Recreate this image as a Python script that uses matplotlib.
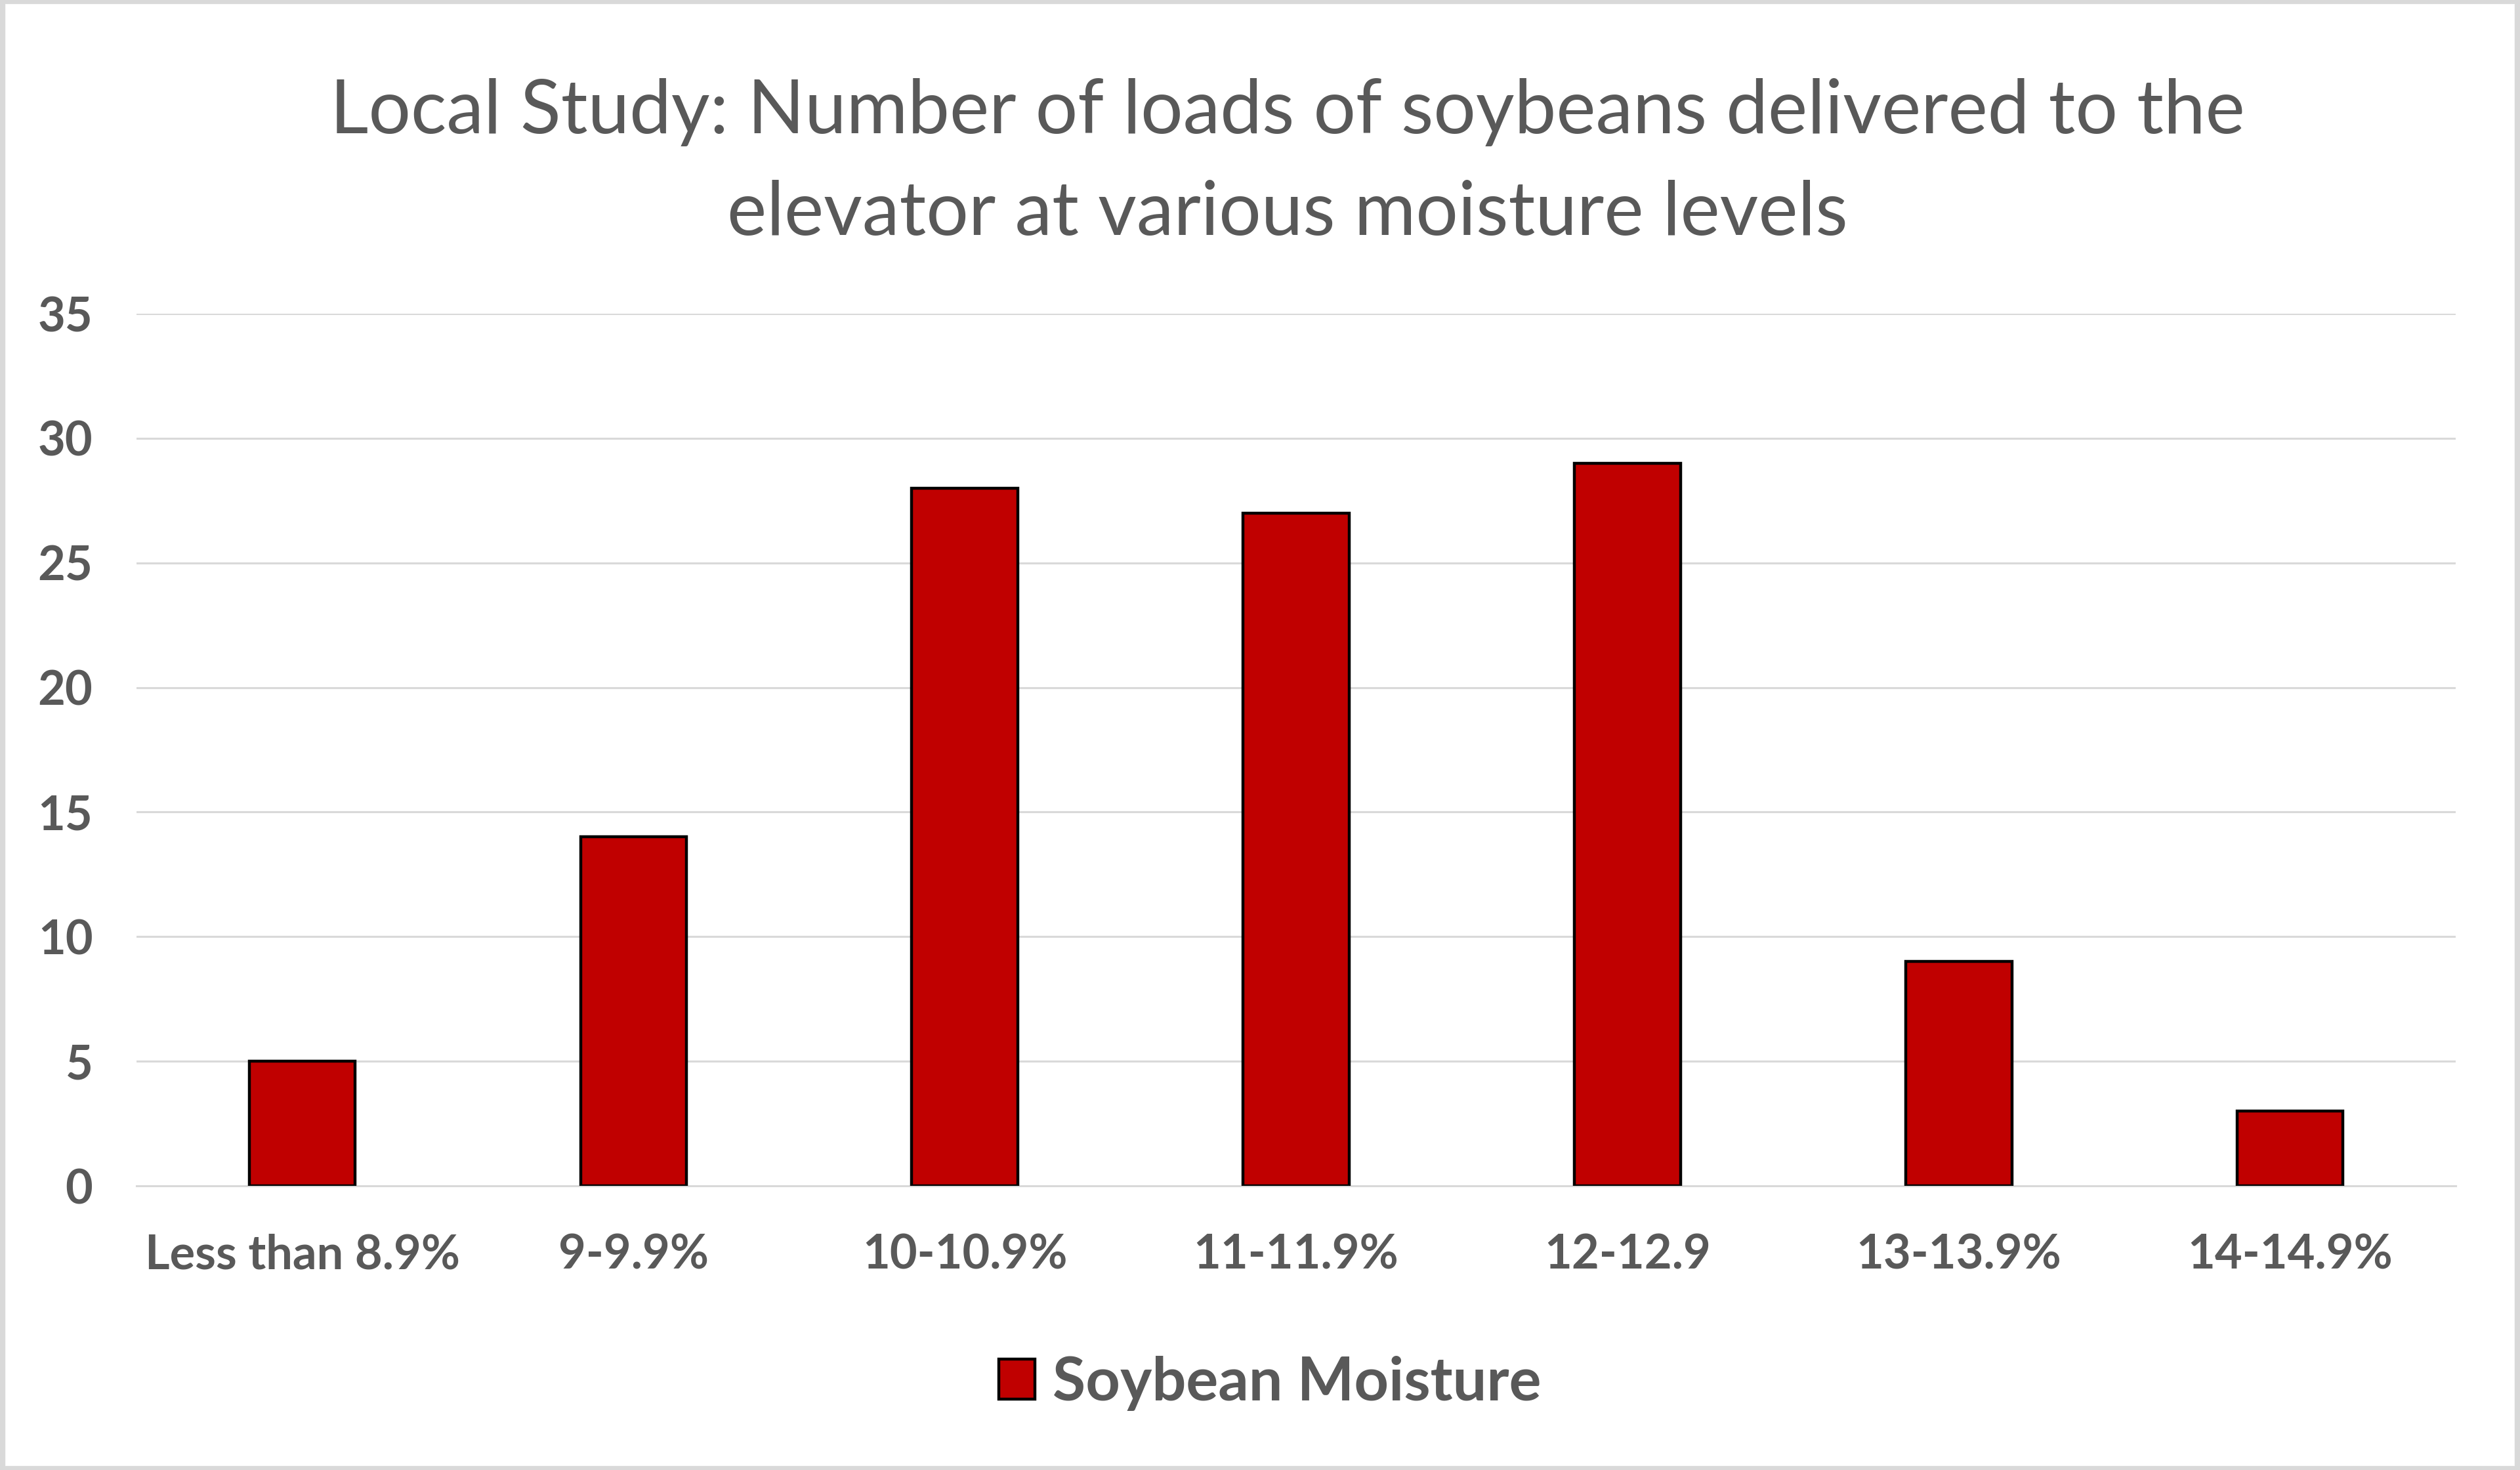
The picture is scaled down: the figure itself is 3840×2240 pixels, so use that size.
import numpy as np
import matplotlib.pyplot as plt
from matplotlib.patches import Rectangle

# data
categories = ['Less than 8.9%', '9-9.9%', '10-10.9%', '11-11.9%', '12-12.9', '13-13.9%', '14-14.9%']
loads = [5, 14, 28, 27, 29, 9, 3]
y_ticks = [0, 5, 10, 15, 20, 25, 30, 35]
title = 'Local Study: Number of loads of soybeans delivered to the\nelevator at various moisture levels'
series_name = 'Soybean Moisture'

text_grey = '#595959'
grid_grey = '#d9d9d9'
bar_red = '#c00000'

plt.rcParams['font.family'] = ['Lato', 'DejaVu Sans']

fig = plt.figure(figsize=(19.2, 11.2), dpi=200)
ax = fig.add_axes([0.0542, 0.1933, 0.9203, 0.5933])

x = np.arange(len(categories))
ax.bar(x, loads, width=0.32, color=bar_red, edgecolor='black', linewidth=1.6,
       label=series_name, zorder=3)

ax.set_xlim(-0.5, len(categories) - 0.5)
ax.set_ylim(0, 35)
ax.set_yticks(y_ticks)
ax.set_xticks(x)
ax.set_xticklabels(categories)

ax.grid(axis='y', color=grid_grey, linewidth=1.1, zorder=0)
ax.set_axisbelow(True)
for s in ['top', 'right', 'left']:
    ax.spines[s].set_visible(False)
ax.spines['bottom'].set_color(grid_grey)
ax.spines['bottom'].set_linewidth(1.1)

ax.tick_params(axis='x', length=0, pad=26, labelsize=26, labelcolor=text_grey)
ax.tick_params(axis='y', length=0, pad=24, labelsize=26, labelcolor=text_grey)
for lab in ax.get_xticklabels() + ax.get_yticklabels():
    lab.set_fontweight('bold')

fig.text(0.511, 0.889, title, ha='center', va='center', fontsize=41,
         color=text_grey, linespacing=1.6)

leg = fig.legend(loc='center', bbox_to_anchor=(0.504, 0.059), frameon=False,
                 handlelength=0.6, handleheight=0.65, handletextpad=0.3,
                 prop={'size': 33, 'weight': 'bold'})
for t in leg.get_texts():
    t.set_color(text_grey)

# light grey chart border
fig.patches.append(Rectangle((0.001, 0.001), 0.998, 0.998, transform=fig.transFigure,
                             fill=False, edgecolor=grid_grey, linewidth=3))

fig.savefig('out.png', dpi=200, facecolor='white')
